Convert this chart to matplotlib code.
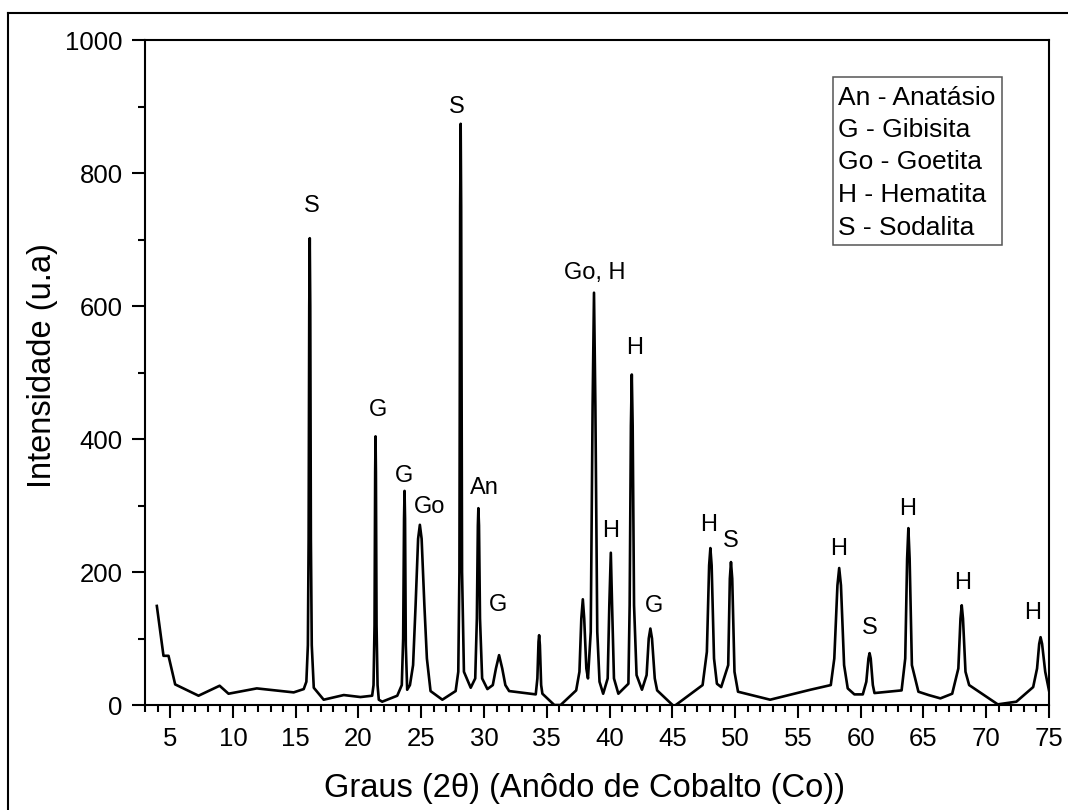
import matplotlib
matplotlib.use("Agg")
import matplotlib.pyplot as plt
from matplotlib.lines import Line2D
from matplotlib.patches import Rectangle
from matplotlib.ticker import MultipleLocator

plt.rcParams['font.family'] = ['Liberation Sans', 'DejaVu Sans']

# XRD pattern: 2theta (deg) and intensity (u.a)
two_theta = [
    3.94, 4.47, 4.87, 5.4, 7.26, 8.94, 9.65, 11.9, 14.84, 15.64,
    15.85, 15.97, 16.03, 16.08, 16.12, 16.16, 16.21, 16.28, 16.44,
    17.23, 18.83, 20.16, 21.09,
    21.2, 21.28, 21.33, 21.36, 21.39, 21.44, 21.52, 21.62, 21.89,
    23.09,
    23.45, 23.56, 23.63, 23.67, 23.71, 23.77, 23.88,
    24.1, 24.35, 24.55, 24.75, 24.89, 25.03, 25.25, 25.45, 25.74, 26.68, 27.74,
    27.95, 28.04, 28.1, 28.14, 28.18, 28.25, 28.4, 28.94,
    29.3, 29.43, 29.51, 29.55, 29.6, 29.68, 29.85, 30.27,
    30.7, 30.95, 31.2, 31.45, 31.7, 32.0, 34.12,
    34.25, 34.34, 34.39, 34.45, 34.55, 34.65, 35.6, 36.1,
    37.34,
    37.6, 37.75, 37.87, 37.98, 38.15, 38.28,
    38.5, 38.65, 38.76, 38.87, 39.02, 39.2, 39.49,
    39.85, 39.98, 40.1, 40.2, 40.35, 40.7, 41.5,
    41.6, 41.7, 41.77, 41.84, 41.95, 42.15, 42.58,
    42.95, 43.12, 43.25, 43.38, 43.6, 43.79, 45.13,
    47.41,
    47.75, 47.93, 48.03, 48.13, 48.32, 48.55, 48.89,
    49.45, 49.58, 49.67, 49.77, 49.95, 50.23, 52.79, 56.0, 57.62,
    57.9, 58.15, 58.29, 58.43, 58.68, 58.97, 59.5, 60.17,
    60.45, 60.62, 60.71, 60.8, 60.97, 61.1, 63.26,
    63.55, 63.7, 63.8, 63.9, 64.08, 64.6, 65.41, 66.35, 67.29,
    67.78, 67.95, 68.05, 68.15, 68.35, 68.64, 70.92, 72.4, 73.74,
    74.05, 74.22, 74.33, 74.45, 74.7, 75.0,
]
intensity = [
    149, 74, 74, 31, 14, 29, 17, 25, 19, 24,
    35, 90, 250, 600, 702, 600, 250, 90, 26,
    8, 15, 12, 14,
    30, 120, 350, 404, 350, 120, 30, 8, 5,
    14,
    30, 100, 280, 322, 280, 90, 23,
    30, 60, 150, 250, 271, 250, 150, 70, 21, 8, 21,
    50, 200, 750, 874, 750, 200, 50, 26,
    40, 130, 270, 296, 270, 130, 40, 24,
    30, 55, 75, 55, 30, 21, 16,
    40, 95, 105, 90, 30, 17, 0, 0,
    22,
    50, 130, 159, 130, 55, 40,
    110, 450, 620, 450, 110, 35, 17,
    40, 150, 229, 150, 40, 17, 32,
    150, 420, 497, 420, 150, 45, 23,
    45, 100, 115, 100, 40, 22, -2,
    30,
    80, 210, 236, 210, 70, 32, 27,
    60, 190, 215, 190, 50, 20, 8, 23, 30,
    70, 180, 206, 180, 60, 25, 16, 16,
    35, 70, 78, 70, 30, 18, 22,
    70, 220, 266, 220, 60, 20, 15, 10, 17,
    55, 130, 150, 130, 50, 30, 1, 5, 27,
    55, 92, 102, 92, 50, 22,
]

# Phase labels above the peaks
peak_labels = ["S", "G", "G", "Go", "S", "An", "G", "Go, H", "H", "H",
               "G", "H", "S", "H", "S", "H", "H", "H"]
label_x = [16.31, 21.53, 23.63, 25.66, 27.86, 30.0, 31.12, 38.8, 42.03, 40.11,
           43.54, 47.92, 49.68, 58.28, 60.75, 63.77, 68.15, 73.73]
label_y = [742, 435, 336, 289, 891, 317, 142, 641, 528, 253,
           140, 262, 237, 225, 107, 286, 175, 130]

legend_lines = ["An - Anatásio", "G - Gibisita", "Go - Goetita",
                "H - Hematita", "S - Sodalita"]

x_label = "Graus (2θ) (Anôdo de Cobalto (Co))"
y_label = "Intensidade (u.a)"

fig = plt.figure(figsize=(10.68, 8.10), dpi=100)
ax = fig.add_axes([0.1358, 0.1296, 0.8464, 0.821])

ax.plot(two_theta, intensity, color='black', lw=1.9, solid_joinstyle='round')

ax.set_xlim(3, 75)
ax.set_ylim(0, 1000)
ax.xaxis.set_major_locator(MultipleLocator(5))
ax.xaxis.set_minor_locator(MultipleLocator(1))
ax.yaxis.set_major_locator(MultipleLocator(200))
ax.yaxis.set_minor_locator(MultipleLocator(100))
ax.tick_params(which='major', direction='out', length=9.5, width=1.5,
               labelsize=18.5, pad=6.5, colors='black')
ax.tick_params(which='minor', direction='out', length=5, width=1.5)
for sp in ax.spines.values():
    sp.set_linewidth(1.5)

ax.set_xlabel(x_label, fontsize=23.5)
ax.set_ylabel(y_label, fontsize=23.5)
ax.xaxis.set_label_coords(0.486, -0.102)
ax.yaxis.set_label_coords(-0.096, 0.51)

for t, x, y in zip(peak_labels, label_x, label_y):
    ax.text(x, y, t, ha='center', va='baseline', fontsize=17)

# Legend box
ax.add_patch(Rectangle((0.761, 0.692), 0.187, 0.252, transform=ax.transAxes,
                       fill=False, edgecolor='#555555', lw=1.1))
base_y = [0.902, 0.854, 0.806, 0.757, 0.707]
for t, y in zip(legend_lines, base_y):
    ax.text(0.767, y, t, transform=ax.transAxes, ha='left', va='baseline',
            fontsize=19)

# Figure frame (left and top edges visible)
fx = 8 / 1068
fy = 1 - 13 / 810
fig.add_artist(Line2D([fx, fx], [0, fy], transform=fig.transFigure,
                      color='black', lw=1.5))
fig.add_artist(Line2D([fx, 1.0], [fy, fy], transform=fig.transFigure,
                      color='black', lw=1.5))

fig.savefig("out.png", dpi=100)
